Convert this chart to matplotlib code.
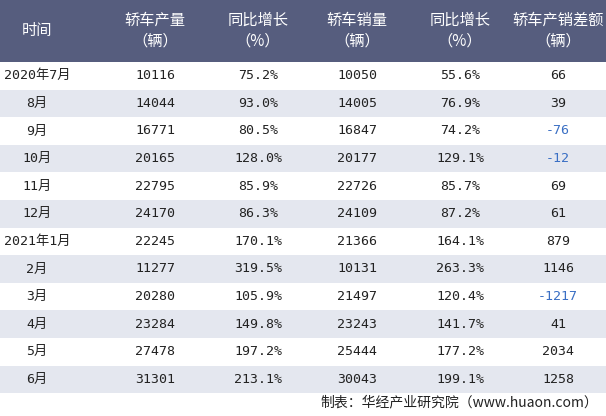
import matplotlib
matplotlib.use("Agg")
import matplotlib.pyplot as plt
from matplotlib.patches import Rectangle

plt.rcParams['font.family'] = ['Noto Sans CJK SC', 'DejaVu Sans']

headers = ["时间", "轿车产量\n（辆）", "同比增长\n（%）", "轿车销量\n（辆）", "同比增长\n（%）", "轿车产销差额\n（辆）"]
months = ["2020年7月", "8月", "9月", "10月", "11月", "12月", "2021年1月", "2月", "3月", "4月", "5月", "6月"]
production = [10116, 14044, 16771, 20165, 22795, 24170, 22245, 11277, 20280, 23284, 27478, 31301]
prod_yoy = ["75.2%", "93.0%", "80.5%", "128.0%", "85.9%", "86.3%", "170.1%", "319.5%", "105.9%", "149.8%", "197.2%", "213.1%"]
sales = [10050, 14005, 16847, 20177, 22726, 24109, 21366, 10131, 21497, 23243, 25444, 30043]
sales_yoy = ["55.6%", "76.9%", "74.2%", "129.1%", "85.7%", "87.2%", "164.1%", "263.3%", "120.4%", "141.7%", "177.2%", "199.1%"]
diff = [66, 39, -76, -12, 69, 61, 879, 1146, -1217, 41, 2034, 1258]

W, H = 606, 416
fig = plt.figure(figsize=(W/100, H/100), dpi=100)
ax = fig.add_axes([0, 0, 1, 1])
ax.set_xlim(0, W); ax.set_ylim(H, 0); ax.axis('off')

centers = [37, 155, 258, 357, 460, 558]
hdr_h = 62
row_h = 27.6
ax.add_patch(Rectangle((0, 0), W, hdr_h, color='#565d7e', lw=0))
for c, h in zip(centers, headers):
    ax.text(c, hdr_h/2, h, color='white', fontsize=11, ha='center', va='center', linespacing=1.3)

mono = ['DejaVu Sans Mono', 'Noto Sans CJK SC']
for i in range(len(months)):
    y0 = hdr_h + i*row_h
    if i % 2 == 1:
        ax.add_patch(Rectangle((0, y0), W, row_h, color='#e4e7ef', lw=0))
    yc = y0 + row_h/2
    vals = [months[i], str(production[i]), prod_yoy[i], str(sales[i]), sales_yoy[i], str(diff[i])]
    for j, (c, v) in enumerate(zip(centers, vals)):
        col = '#3a6fc4' if (j == 5 and diff[i] < 0) else '#222222'
        ax.text(c, yc, v, fontsize=9.5, ha='center', va='center', color=col, family=mono)

ax.text(598, 402, "制表：华经产业研究院（www.huaon.com）", fontsize=10, ha='right', va='center', color='#222222')
fig.savefig("out.png", dpi=100)
